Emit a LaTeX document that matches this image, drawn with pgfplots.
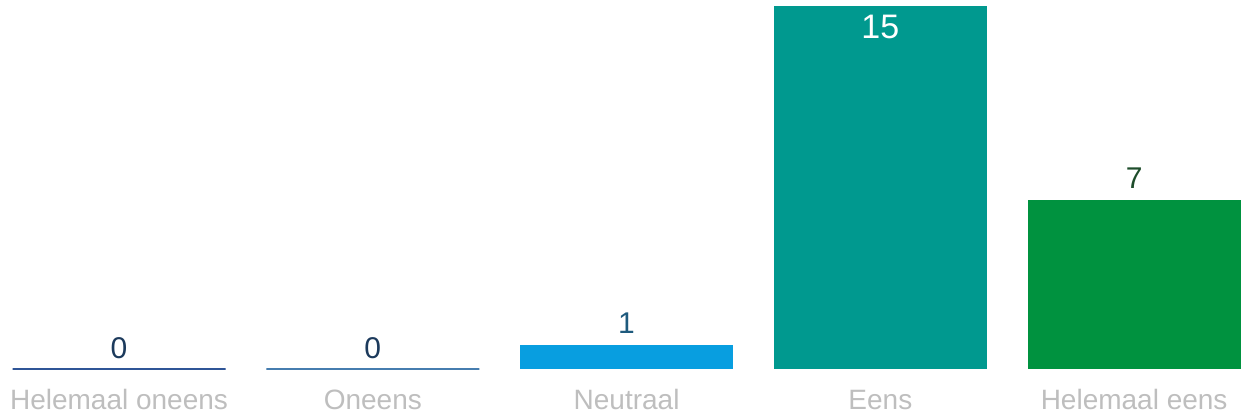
\documentclass[border=0pt]{standalone}
\usepackage{pgfplots}
\pgfplotsset{compat=1.18}
\usepackage{fontspec}
\setmainfont{Liberation Sans}

\definecolor{navyzero}{RGB}{28,58,92}
\definecolor{linezeroA}{RGB}{47,85,151}
\definecolor{linezeroB}{RGB}{70,125,175}
\definecolor{neutraal}{RGB}{8,158,224}
\definecolor{eens}{RGB}{0,153,143}
\definecolor{heleens}{RGB}{0,146,63}
\definecolor{labgray}{RGB}{190,190,190}
\definecolor{valblue}{RGB}{30,90,125}
\definecolor{valgreen}{RGB}{30,77,43}

\begin{document}
\begin{tikzpicture}
\begin{axis}[
    width=1242pt, height=416pt,
    scale only axis,
    clip=false,
    axis line style={draw=none},
    major tick length=0pt,
    ytick=\empty,
    ybar, bar width=213pt, bar shift=0pt,
    xmin=-0.469, xmax=4.425,
    ymin=-1.942, ymax=15.248,
    xtick={0,1,2,3,4},
    xticklabels={Helemaal oneens, Oneens, Neutraal, Eens, Helemaal eens},
    xticklabel style={anchor=base, yshift=7pt, text=labgray,
        font=\fontsize{28}{30}\selectfont},
    /pgf/number format/assume math mode=true,
    nodes near coords,
    every node near coord/.append style={anchor=base, yshift=11pt,
        font=\fontsize{30}{32}\selectfont},
]
\addplot[fill=linezeroA, draw=linezeroA, line width=2pt,
    every node near coord/.append style={text=navyzero}]
    coordinates {(0,0)};
\addplot[fill=linezeroB, draw=linezeroB, line width=2pt,
    every node near coord/.append style={text=navyzero}]
    coordinates {(1,0)};
\addplot[fill=neutraal, draw=none,
    every node near coord/.append style={text=valblue}]
    coordinates {(2,1)};
\addplot[fill=eens, draw=none,
    every node near coord/.append style={text=white, yshift=-43pt,
        font=\fontsize{34}{36}\selectfont}]
    coordinates {(3,15)};
\addplot[fill=heleens, draw=none,
    every node near coord/.append style={text=valgreen}]
    coordinates {(4,7)};
\end{axis}
\end{tikzpicture}
\end{document}
